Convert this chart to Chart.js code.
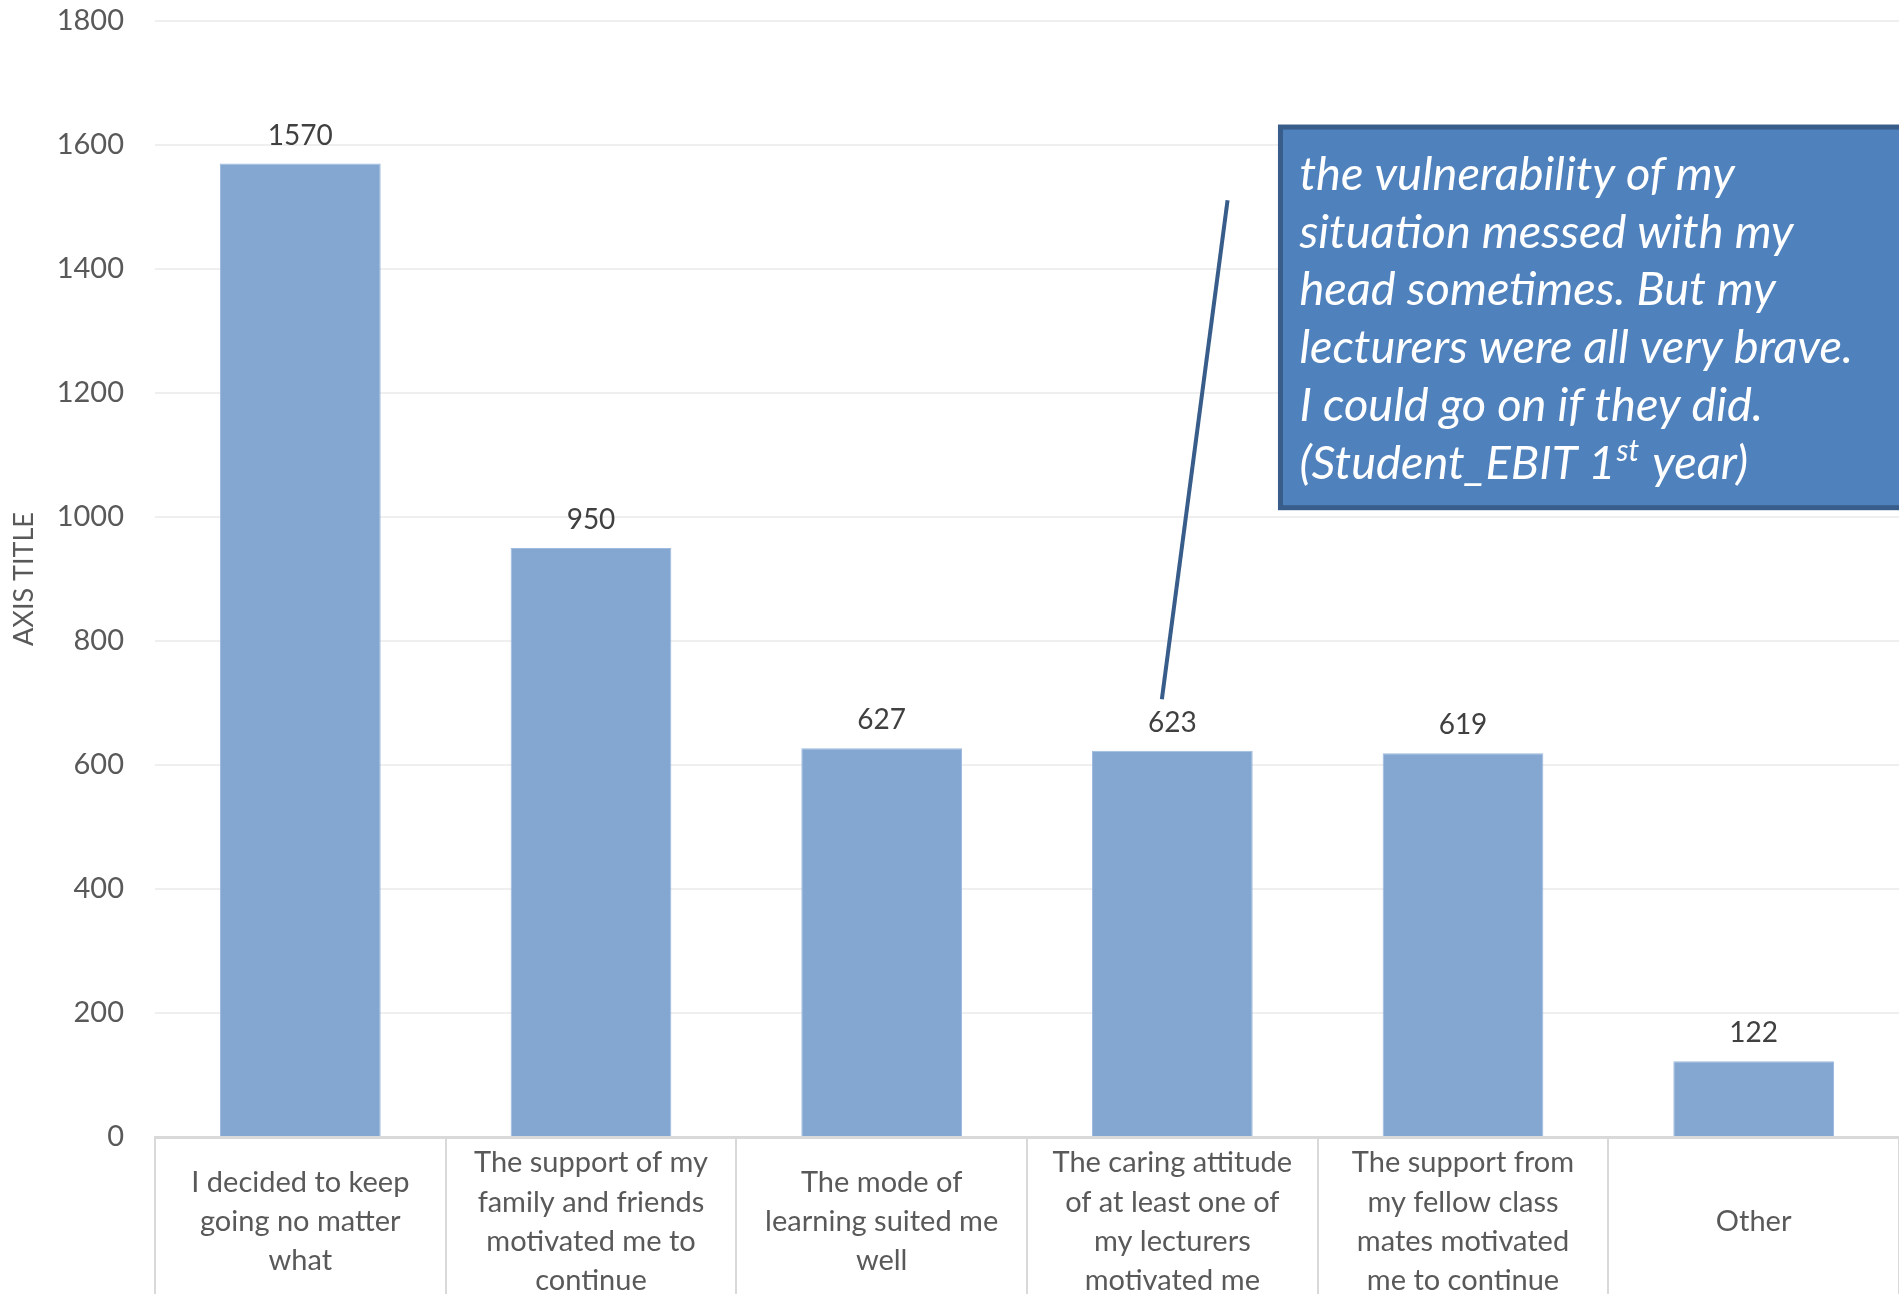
<!doctype html>
<html>
<head>
  <meta charset="utf-8" />
  <title>Motivation to continue</title>
  <style>
    html,body{margin:0;padding:0;background:#fff;overflow:hidden}
    #wrap{position:relative;width:1899px;height:1294px}
  </style>
</head>
<body>
  <div id="wrap"><canvas id="chart"></canvas></div>

  <script src="https://cdn.jsdelivr.net/npm/chart.js@4.4.1/dist/chart.umd.min.js"></script>
  <script>
    // categories (already wrapped the way they are shown under the axis)
    const categories = [
      ['I decided to keep', 'going no matter', 'what'],
      ['The support of my', 'family and friends', 'motivated me to', 'continue'],
      ['The mode of', 'learning suited me', 'well'],
      ['The caring attitude', 'of at least one of', 'my lecturers', 'motivated me'],
      ['The support from', 'my fellow class', 'mates motivated', 'me to continue'],
      ['Other']
    ];
    const counts = [1570, 950, 627, 623, 619, 122];
    const yTicks = [0, 200, 400, 600, 800, 1000, 1200, 1400, 1600, 1800];

    const quoteLines = [
      'the vulnerability of my',
      'situation messed with my',
      'head sometimes. But my',
      'lecturers were all very brave.',
      'I could go on if they did.'
    ];
    const quoteLast = ['(Student_EBIT 1', 'st', ' year)'];

    // callout placement in axis units (category index / value)
    const boxX = 3.372, boxTop = 1629, boxBottom = 1015;
    const leaderFrom = [3.19, 1511], leaderTo = [2.964, 706];

    const FONT = 'Lato, "Open Sans", sans-serif';

    const valueLabels = {
      id: 'valueLabels',
      afterDatasetsDraw(chart){
        const c = chart.ctx;
        const meta = chart.getDatasetMeta(0);
        c.save();
        c.font = '28px ' + FONT;
        c.fillStyle = '#404040';
        c.textAlign = 'center';
        c.textBaseline = 'bottom';
        meta.data.forEach((bar, i) => {
          c.fillText(String(counts[i]), bar.x, bar.y - 14);
        });
        c.restore();
      }
    };

    const callout = {
      id: 'callout',
      afterDraw(chart){
        const c = chart.ctx;
        const xs = chart.scales.x, ys = chart.scales.y;
        const left = xs.getPixelForValue(boxX);
        const right = chart.width + 10;
        const top = ys.getPixelForValue(boxTop);
        const bottom = ys.getPixelForValue(boxBottom);
        c.save();
        // leader line
        c.strokeStyle = '#385d8a';
        c.lineWidth = 4;
        c.beginPath();
        c.moveTo(xs.getPixelForValue(leaderFrom[0]), ys.getPixelForValue(leaderFrom[1]));
        c.lineTo(xs.getPixelForValue(leaderTo[0]), ys.getPixelForValue(leaderTo[1]));
        c.stroke();
        // box
        c.fillStyle = '#4f81bd';
        c.fillRect(left, top, right - left, bottom - top);
        c.lineWidth = 5;
        c.strokeRect(left, top, right - left, bottom - top);
        // quote text
        c.fillStyle = '#ffffff';
        c.textAlign = 'left';
        c.textBaseline = 'alphabetic';
        const tx = left + 19;
        let ty = top + 63;
        const lh = 57.7;
        c.font = 'italic 47px ' + FONT;
        quoteLines.forEach(line => { c.fillText(line, tx, ty); ty += lh; });
        let x = tx;
        c.fillText(quoteLast[0], x, ty);
        x += c.measureText(quoteLast[0]).width + 1;
        c.font = 'italic 30px ' + FONT;
        c.fillText(quoteLast[1], x, ty - 18);
        x += c.measureText(quoteLast[1]).width + 2;
        c.font = 'italic 47px ' + FONT;
        c.fillText(quoteLast[2], x, ty);
        c.restore();
      }
    };

    new Chart(document.getElementById('chart'), {
      type: 'bar',
      data: {
        labels: categories,
        datasets: [{
          data: counts,
          backgroundColor: '#84a7d1',
          borderColor: '#9dbadf',
          borderWidth: 1,
          barPercentage: 0.553,
          categoryPercentage: 1
        }]
      },
      options: {
        responsive: true,
        maintainAspectRatio: false,
        animation: false,
        layout: { padding: 0 },
        plugins: { legend: { display: false }, tooltip: { enabled: false } },
        scales: {
          x: {
            offset: true,
            grid: { offset: true, drawOnChartArea: false, drawTicks: true, tickLength: 170, color: '#d9d9d9', lineWidth: 2 },
            border: { color: '#d9d9d9', width: 3 },
            ticks: { font: { family: FONT, size: 29, lineHeight: 1.35 }, color: '#595959', crossAlign: 'center', padding: -144, maxRotation: 0, autoSkip: false },
            afterFit(scale){ scale.height = 157; }
          },
          y: {
            min: 0, max: 1800,
            afterBuildTicks(scale){ scale.ticks = yTicks.map(v => ({ value: v })); },
            grid: { color: '#efefef', lineWidth: 2, drawTicks: false },
            border: { display: false },
            ticks: { font: { family: FONT, size: 29 }, color: '#595959', padding: 31, callback: v => String(v) },
            title: { display: true, text: 'AXIS TITLE', font: { family: FONT, size: 27 }, color: '#595959', padding: { top: 8, bottom: 0 } },
            afterFit(scale){
              scale.width = 155;
              scale.paddingTop = 21;
              scale.paddingBottom = 0;
            }
          }
        }
      },
      plugins: [valueLabels, callout]
    });
  </script>
</body>
</html>
